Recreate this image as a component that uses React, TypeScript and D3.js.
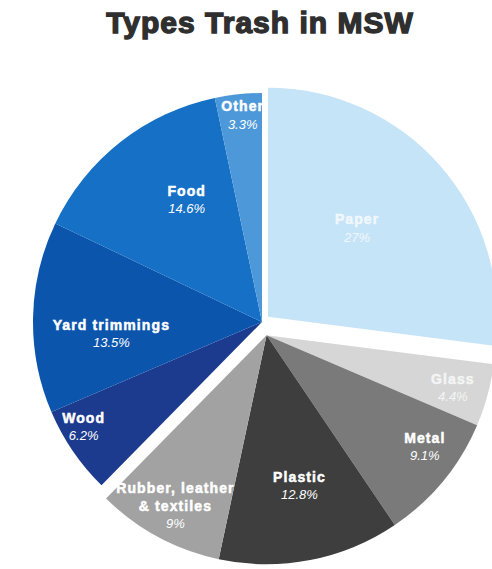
import React from "react";
import * as d3 from "d3";

const categories = ["Paper", "Glass", "Metal", "Plastic", "Rubber, leather & textiles", "Wood", "Yard trimmings", "Food", "Other"];
const values = [27, 4.4, 9.1, 12.8, 9, 6.2, 13.5, 14.6, 3.3];
const valueLabels = ["27%", "4.4%", "9.1%", "12.8%", "9%", "6.2%", "13.5%", "14.6%", "3.3%"];
const labelLines = [["Paper"], ["Glass"], ["Metal"], ["Plastic"], ["Rubber, leather", "& textiles"], ["Wood"], ["Yard trimmings"], ["Food"], ["Other"]];
const groups = [1, 2, 2, 2, 2, 0, 0, 0, 0];
const colors = ["#c6e4f7", "#d6d6d6", "#7a7a7a", "#3e3e3e", "#a2a2a2", "#1c3a8e", "#0c55ad", "#1570c6", "#4d98d8"];
const labelRadius = [0.546, 0.846, 0.847, 0.675, 0.848, 0.905, 0.66, 0.624, 0.904];
const labelAngleShift = [-3.2, 0.7, -4.2, -1.3, -0.3, 3.7, -5.9, 6.4, 0.6];
const groupOffset = [0, 8, 14];

export default function App() {
  const W = 492, H = 569;
  const cx = 262, cy = 322, R = 229;
  const pie = d3.pie<number>().sort(null).value((d) => d);
  const arcs = pie(values);
  const arcGen = d3.arc<d3.PieArcDatum<number>>().innerRadius(0).outerRadius(R);

  const groupAngles: Record<number, [number, number]> = {};
  arcs.forEach((a, i) => {
    const g = groups[i];
    if (!groupAngles[g]) groupAngles[g] = [a.startAngle, a.endAngle];
    else {
      groupAngles[g][0] = Math.min(groupAngles[g][0], a.startAngle);
      groupAngles[g][1] = Math.max(groupAngles[g][1], a.endAngle);
    }
  });
  const offsetOf = (g: number) => {
    const [s, e] = groupAngles[g];
    const m = (s + e) / 2;
    const o = groupOffset[g];
    return [Math.sin(m) * o, -Math.cos(m) * o];
  };

  return (
    <svg width={W} height={H} style={{ position: "absolute", left: 0, top: 0, background: "#fff" }}
      fontFamily="'Liberation Sans', Arial, sans-serif">
      <text x={W / 2 + 14} y={33} textAnchor="middle" fontSize={30} fontWeight={900} fill="#2f2f2f"
        stroke="#2f2f2f" strokeWidth={1.4} style={{ letterSpacing: "1px" }}>Types Trash in MSW</text>
      {arcs.map((a, i) => {
        const [ox, oy] = offsetOf(groups[i]);
        return (
          <path key={categories[i]} d={arcGen(a) || ""} fill={colors[i]}
            transform={`translate(${cx + ox},${cy + oy})`} />
        );
      })}
      {arcs.map((a, i) => {
        const [ox, oy] = offsetOf(groups[i]);
        const m = (a.startAngle + a.endAngle) / 2 + (labelAngleShift[i] * Math.PI) / 180;
        const r = R * labelRadius[i];
        const x = cx + ox + Math.sin(m) * r;
        const y = cy + oy - Math.cos(m) * r;
        const lines = labelLines[i];
        const lh = 17.5;
        const total = lines.length + 1;
        const y0 = y - ((total - 1) * lh) / 2 + 4;
        const faint = i === 0 || i === 1;
        return (
          <g key={"l" + i} fill="#fff" opacity={faint ? 0.75 : 1} textAnchor="middle">
            {lines.map((t, j) => (
              <text key={j} x={x} y={y0 + j * lh} fontSize={14} fontWeight="bold"
                stroke="#fff" strokeWidth={0.5} style={{ letterSpacing: "1.1px" }}>{t}</text>
            ))}
            <text x={x} y={y0 + lines.length * lh} fontSize={13} fontStyle="italic">{valueLabels[i]}</text>
          </g>
        );
      })}
    </svg>
  );
}
